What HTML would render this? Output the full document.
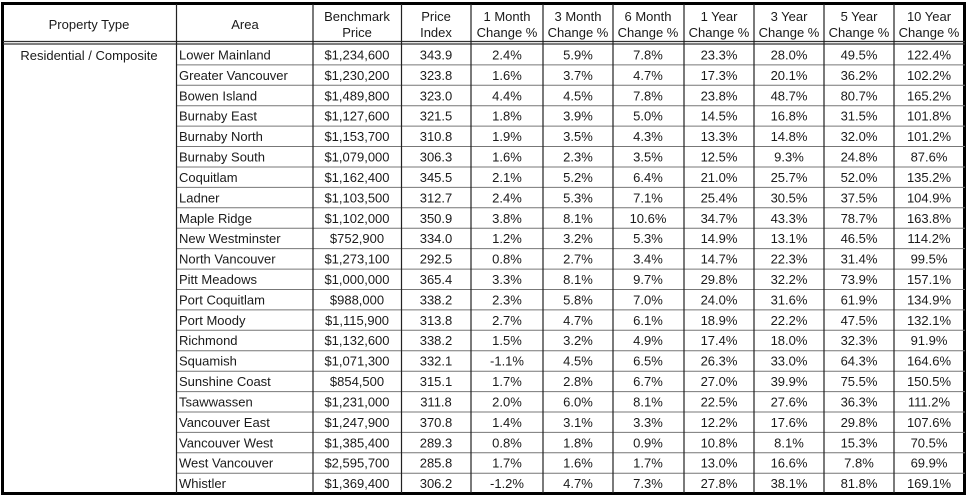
<!DOCTYPE html>
<html><head><style>
html,body{margin:0;padding:0;background:#fff;}
svg text{font-family:"Liberation Sans",Arial,sans-serif;font-size:13px;fill:#1a1a1a;}
</style></head><body>
<svg width="968" height="496" xmlns="http://www.w3.org/2000/svg">
<rect x="0" y="0" width="968" height="496" fill="#fff"/>
<rect x="2.5" y="3.5" width="962" height="490" fill="none" stroke="#000" stroke-width="3"/>
<line x1="3" y1="41.5" x2="965" y2="41.5" stroke="#333" stroke-width="1.2"/>
<line x1="3" y1="44" x2="965" y2="44" stroke="#333" stroke-width="1.2"/>
<g stroke="#777" stroke-width="1">
<line x1="176" y1="64.9" x2="965" y2="64.9"/><line x1="176" y1="85.3" x2="965" y2="85.3"/><line x1="176" y1="105.7" x2="965" y2="105.7"/><line x1="176" y1="126.1" x2="965" y2="126.1"/><line x1="176" y1="146.5" x2="965" y2="146.5"/><line x1="176" y1="167" x2="965" y2="167"/><line x1="176" y1="187.4" x2="965" y2="187.4"/><line x1="176" y1="207.8" x2="965" y2="207.8"/><line x1="176" y1="228.2" x2="965" y2="228.2"/><line x1="176" y1="248.6" x2="965" y2="248.6"/><line x1="176" y1="269.1" x2="965" y2="269.1"/><line x1="176" y1="289.5" x2="965" y2="289.5"/><line x1="176" y1="309.9" x2="965" y2="309.9"/><line x1="176" y1="330.3" x2="965" y2="330.3"/><line x1="176" y1="350.7" x2="965" y2="350.7"/><line x1="176" y1="371.2" x2="965" y2="371.2"/><line x1="176" y1="391.6" x2="965" y2="391.6"/><line x1="176" y1="412" x2="965" y2="412"/><line x1="176" y1="432.4" x2="965" y2="432.4"/><line x1="176" y1="452.8" x2="965" y2="452.8"/><line x1="176" y1="473.2" x2="965" y2="473.2"/>
</g>
<g stroke="#222" stroke-width="1.2">
<line x1="176.5" y1="4" x2="176.5" y2="493"/><line x1="313" y1="4" x2="313" y2="493"/><line x1="401.5" y1="4" x2="401.5" y2="493"/><line x1="471" y1="4" x2="471" y2="493"/><line x1="543" y1="4" x2="543" y2="493"/><line x1="613" y1="4" x2="613" y2="493"/><line x1="684" y1="4" x2="684" y2="493"/><line x1="754" y1="4" x2="754" y2="493"/><line x1="824" y1="4" x2="824" y2="493"/><line x1="894" y1="4" x2="894" y2="493"/>
</g>
<g text-anchor="middle">
<text x="89" y="29" font-size="14">Property Type</text>
<text x="245" y="29" font-size="14">Area</text>
<text x="357" y="21">Benchmark</text><text x="357" y="37">Price</text>
<text x="436" y="21">Price</text><text x="436" y="37">Index</text>
<text x="507" y="21">1 Month</text><text x="507" y="37">Change %</text>
<text x="578" y="21">3 Month</text><text x="578" y="37">Change %</text>
<text x="648" y="21">6 Month</text><text x="648" y="37">Change %</text>
<text x="719" y="21">1 Year</text><text x="719" y="37">Change %</text>
<text x="789" y="21">3 Year</text><text x="789" y="37">Change %</text>
<text x="859" y="21">5 Year</text><text x="859" y="37">Change %</text>
<text x="929" y="21">10 Year</text><text x="929" y="37">Change %</text>
</g>
<text x="89" y="60" text-anchor="middle" font-size="14">Residential / Composite</text>
<g id="body"></g>
<script>
var d=[["Lower Mainland","$1,234,600","343.9","2.4%","5.9%","7.8%","23.3%","28.0%","49.5%","122.4%"],
["Greater Vancouver","$1,230,200","323.8","1.6%","3.7%","4.7%","17.3%","20.1%","36.2%","102.2%"],
["Bowen Island","$1,489,800","323.0","4.4%","4.5%","7.8%","23.8%","48.7%","80.7%","165.2%"],
["Burnaby East","$1,127,600","321.5","1.8%","3.9%","5.0%","14.5%","16.8%","31.5%","101.8%"],
["Burnaby North","$1,153,700","310.8","1.9%","3.5%","4.3%","13.3%","14.8%","32.0%","101.2%"],
["Burnaby South","$1,079,000","306.3","1.6%","2.3%","3.5%","12.5%","9.3%","24.8%","87.6%"],
["Coquitlam","$1,162,400","345.5","2.1%","5.2%","6.4%","21.0%","25.7%","52.0%","135.2%"],
["Ladner","$1,103,500","312.7","2.4%","5.3%","7.1%","25.4%","30.5%","37.5%","104.9%"],
["Maple Ridge","$1,102,000","350.9","3.8%","8.1%","10.6%","34.7%","43.3%","78.7%","163.8%"],
["New Westminster","$752,900","334.0","1.2%","3.2%","5.3%","14.9%","13.1%","46.5%","114.2%"],
["North Vancouver","$1,273,100","292.5","0.8%","2.7%","3.4%","14.7%","22.3%","31.4%","99.5%"],
["Pitt Meadows","$1,000,000","365.4","3.3%","8.1%","9.7%","29.8%","32.2%","73.9%","157.1%"],
["Port Coquitlam","$988,000","338.2","2.3%","5.8%","7.0%","24.0%","31.6%","61.9%","134.9%"],
["Port Moody","$1,115,900","313.8","2.7%","4.7%","6.1%","18.9%","22.2%","47.5%","132.1%"],
["Richmond","$1,132,600","338.2","1.5%","3.2%","4.9%","17.4%","18.0%","32.3%","91.9%"],
["Squamish","$1,071,300","332.1","-1.1%","4.5%","6.5%","26.3%","33.0%","64.3%","164.6%"],
["Sunshine Coast","$854,500","315.1","1.7%","2.8%","6.7%","27.0%","39.9%","75.5%","150.5%"],
["Tsawwassen","$1,231,000","311.8","2.0%","6.0%","8.1%","22.5%","27.6%","36.3%","111.2%"],
["Vancouver East","$1,247,900","370.8","1.4%","3.1%","3.3%","12.2%","17.6%","29.8%","107.6%"],
["Vancouver West","$1,385,400","289.3","0.8%","1.8%","0.9%","10.8%","8.1%","15.3%","70.5%"],
["West Vancouver","$2,595,700","285.8","1.7%","1.6%","1.7%","13.0%","16.6%","7.8%","69.9%"],
["Whistler","$1,369,400","306.2","-1.2%","4.7%","7.3%","27.8%","38.1%","81.8%","169.1%"]];
var cx=[357,436,507,578,648,719,789,859,929],ns="http://www.w3.org/2000/svg";
var g=document.getElementById("body");
d.forEach(function(r,i){var y=44+20.41*i+15.5;
var t=document.createElementNS(ns,"text");t.setAttribute("x",179);t.setAttribute("y",y);t.setAttribute("font-size","14");t.textContent=r[0];g.appendChild(t);
for(var j=1;j<10;j++){t=document.createElementNS(ns,"text");t.setAttribute("x",cx[j-1]);t.setAttribute("y",y);t.setAttribute("text-anchor","middle");t.setAttribute("font-size","12");t.textContent=r[j];g.appendChild(t);}});
</script>
</svg>
</body></html>
